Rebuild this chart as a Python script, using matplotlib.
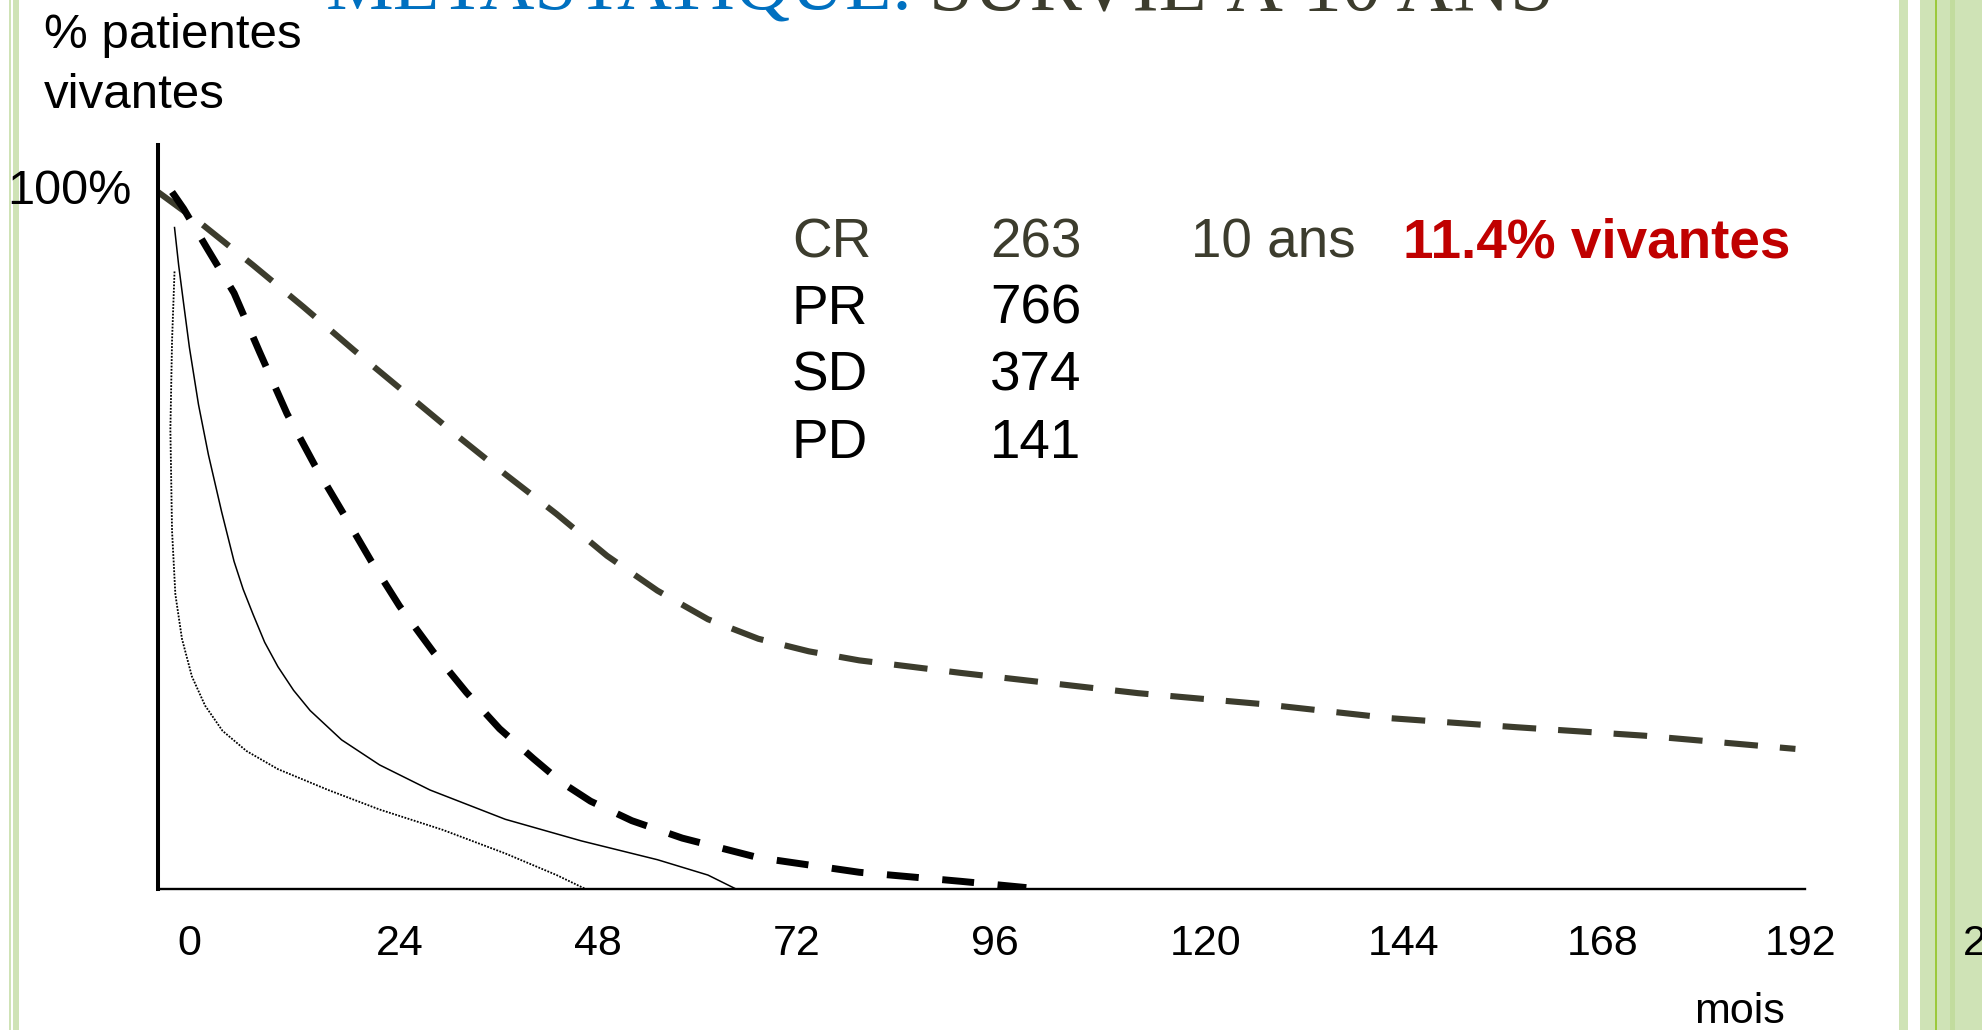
import numpy as np
import matplotlib
matplotlib.use('Agg')
import matplotlib.pyplot as plt
from matplotlib.patches import Rectangle

plt.rcParams['font.family'] = ['Liberation Sans', 'DejaVu Sans']

# survival curves (x in months, y in % alive)
cr_x = [-2.3, 3.1, 9.2, 15.3, 21.4, 27.5, 33.6, 39.7, 45.9, 52.0, 58.1, 64.2, 70.3, 76.4, 82.5, 88.7,
        94.8, 116.2, 131.5, 146.8, 162.1, 177.4, 195.7]
cr_y = [100, 95.3, 89.5, 83.5, 77.3, 71.3, 65.3, 59.5, 53.8, 47.8, 42.8, 38.7, 35.9, 34.1, 32.8, 31.9,
        31.0, 28.1, 26.5, 24.5, 23.2, 22.0, 20.1]

pr_x = [-0.6, 0.8, 3.7, 6.9, 10.0, 13.3, 16.7, 20.2, 23.5, 26.9, 31.0, 35.0, 39.0, 43.1, 46.5, 50.0,
        55.0, 61.1, 70.3, 82.5, 94.8, 102.7]
pr_y = [100, 97.6, 91.8, 85.5, 77.0, 68.2, 60.7, 53.7, 47.0, 40.6, 34.0, 28.2, 23.0, 18.7, 15.3, 12.6,
        9.8, 7.3, 4.5, 2.4, 1.1, 0.2]

sd_x = [-0.3, 0.2, 0.8, 1.5, 2.6, 3.8, 5.4, 6.9, 8.0, 9.2, 10.6, 12.2, 14.1, 16.1, 19.9, 24.5, 30.6,
        39.7, 48.9, 58.1, 64.2, 67.6]
sd_y = [94.9, 89.5, 84.0, 77.7, 69.5, 62.3, 54.1, 47.0, 43.0, 39.4, 35.4, 31.9, 28.5, 25.6, 21.4, 17.8,
        14.2, 10.0, 6.9, 4.2, 2.0, 0]

pd_x = [-0.3, -0.6, -0.8, -0.6, -0.2, 0.6, 1.8, 3.4, 5.5, 8.4, 12.2, 18.3, 24.5, 32.1, 39.7, 45.9, 49.4]
pd_y = [88.6, 78.6, 65.9, 51.4, 42.3, 35.9, 30.5, 26.3, 22.7, 19.8, 17.2, 14.2, 11.4, 8.5, 5.1, 2.0, 0]

month_ticks = [0, 24, 48, 72, 96, 120, 144, 168, 192, 216]

groups = ['CR', 'PR', 'SD', 'PD']
counts = ['263', '766', '374', '141']

olive = '#3c3c2d'
W, H = 1982, 1030

fig = plt.figure(figsize=(W / 100, H / 100), dpi=100)

def fx(px):
    return px / W

def fy(py):
    return 1 - py / H

# green slide border strips
for x0, x1, c in [(8.5, 10.5, '#cfe3b6'), (12.5, 18.5, '#cfe3b6'),
                  (1899, 1908, '#cfe3b6'), (1920, 1982, '#cfe3b6'),
                  (1934.5, 1937, '#9cc93c'), (1950, 1955, '#c2dc9e')]:
    fig.patches.append(Rectangle((fx(x0), 0), fx(x1 - x0), 1, transform=fig.transFigure,
                                 facecolor=c, edgecolor='none', zorder=-1))

xmin, xmax = -2.3, 225
pxm = 8.27
left_px = 177 + pxm * xmin
right_px = 177 + pxm * xmax
ax = fig.add_axes([fx(left_px), fy(889), fx(right_px - left_px), (889 - 145) / H])
ax.set_facecolor('none')
ax.set_xlim(xmin, xmax)
ax.set_ylim(0, (889 - 145) / 6.97)

ax.plot(cr_x, cr_y, color=olive, lw=4.4, dashes=(5.5, 3.6))
ax.plot(pr_x, pr_y, color='black', lw=5.0, dashes=(4.6, 3.4))
ax.plot(sd_x, sd_y, color='black', lw=1.1)
ax.plot(pd_x, pd_y, color='black', lw=1.3, dashes=(1, 0.8))

for s in ['top', 'right']:
    ax.spines[s].set_visible(False)
ax.spines['left'].set_linewidth(2.9)
ax.spines['bottom'].set_linewidth(1.7)
ax.spines['bottom'].set_bounds(xmin, 196.9)

ax.set_xticks(month_ticks)
ax.set_xticklabels([str(m) for m in month_ticks], fontsize=31, ha='left')
ax.tick_params(axis='x', length=0, pad=25)
ax.set_yticks([100.8])
ax.set_yticklabels(['100%'], fontsize=35)
ax.tick_params(axis='y', length=0, pad=19)

# axis titles
fig.text(fx(44), fy(36), '% patientes', fontsize=35.5, va='center', ha='left')
fig.text(fx(44), fy(96), 'vivantes', fontsize=35.5, va='center', ha='left')
fig.text(fx(1694), fy(1012), 'mois', fontsize=31, va='center', ha='left')

# legend block
rows_y = [243, 310, 377, 444]
for i, (g, n) in enumerate(zip(groups, counts)):
    c = olive if i == 0 else 'black'
    fig.text(fx(792), fy(rows_y[i]), g, fontsize=39.5, color=c, va='center', ha='left')
    fig.text(fx(990), fy(rows_y[i]), n, fontsize=39.5, color=c, va='center', ha='left')
fig.text(fx(1191), fy(rows_y[0]), '10 ans', fontsize=39.5, color=olive, va='center', ha='left')
fig.text(fx(1403), fy(rows_y[0]), '11.4% vivantes', fontsize=39.5, color='#c00000',
         fontweight='bold', va='center', ha='left')

# slide title, mostly cut off at the top
fig.text(fx(326), fy(10), 'MÉTASTATIQUE:', fontsize=54.7, color='#0070c0',
         family=['Liberation Serif', 'DejaVu Serif'], va='baseline', ha='left')
fig.text(fx(929), fy(10), 'SURVIE À 10 ANS', fontsize=56.6, color=olive,
         family=['Liberation Serif', 'DejaVu Serif'], va='baseline', ha='left')

fig.savefig('out.png', dpi=100)
